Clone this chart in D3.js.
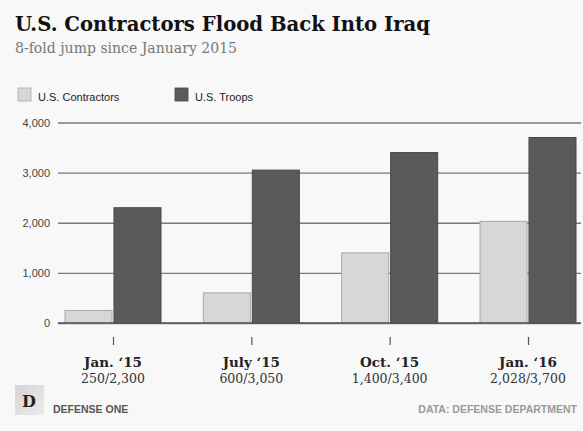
<!DOCTYPE html>
<html>
<head>
<meta charset="utf-8">
<script src="https://cdn.jsdelivr.net/npm/d3@7"></script>
<style>
  html, body { margin: 0; padding: 0; background: #f8f8f8; }
  svg { display: block; }
</style>
</head>
<body>
<script>
// Data
const categories = ["Jan. \u201815", "July \u201815", "Oct. \u201815", "Jan. \u201816"];
const contractors = [250, 600, 1400, 2028];
const troops = [2300, 3050, 3400, 3700];
const seriesNames = ["U.S. Contractors", "U.S. Troops"];
const yTicks = [0, 1000, 2000, 3000, 4000];

const W = 583, H = 431;
const svg = d3.select("body").append("svg").attr("width", W).attr("height", H);

const defs = svg.append("defs");
const gD = defs.append("linearGradient").attr("id", "dbox").attr("x1", 0).attr("y1", 0).attr("x2", 1).attr("y2", 1);
gD.append("stop").attr("offset", "0%").attr("stop-color", "#d4d4d4");
gD.append("stop").attr("offset", "100%").attr("stop-color", "#ececec");

svg.append("rect").attr("width", W).attr("height", H).attr("fill", "#f8f8f8");

// Title block
const serif = "'DejaVu Serif', 'Liberation Serif', serif";
const sans = "'Liberation Sans', Arial, Helvetica, sans-serif";

svg.append("text").attr("x", 15).attr("y", 31)
  .attr("font-family", serif).attr("font-weight", "bold").attr("font-size", 20.5)
  .attr("fill", "#111")
  .attr("textLength", 415).attr("lengthAdjust", "spacingAndGlyphs")
  .text("U.S. Contractors Flood Back Into Iraq");

svg.append("text").attr("x", 15).attr("y", 53)
  .attr("font-family", serif).attr("font-size", 14.5)
  .attr("fill", "#777")
  .attr("textLength", 222).attr("lengthAdjust", "spacingAndGlyphs")
  .text("8-fold jump since January 2015");

// Scales
const x = d3.scalePoint().domain(categories).range([113, 528]);
const xs = d3.scaleBand().domain(seriesNames).range([-48, 48]).paddingInner(0.04);
const y = d3.scaleLinear().domain([0, 4000]).range([323, 122.5]);

const fills = { "U.S. Contractors": "#d7d7d7", "U.S. Troops": "#5a5a5a" };
const strokes = { "U.S. Contractors": "#a8a8a8", "U.S. Troops": "#474747" };

// Legend
const legend = svg.append("g").attr("font-family", sans).attr("font-size", 11).attr("fill", "#222");
const legendX = [18, 175];
seriesNames.forEach((s, i) => {
  const g = legend.append("g").attr("transform", `translate(${legendX[i]},88)`);
  g.append("rect").attr("width", 13).attr("height", 13)
    .attr("fill", fills[s]).attr("stroke", strokes[s]).attr("stroke-width", 0.8);
  g.append("text").attr("x", 20).attr("y", 12.5).text(s);
});

// Y axis gridlines and labels
const yAxis = d3.axisLeft(y).tickValues(yTicks).tickFormat(d3.format(",")).tickSize(-(581 - 58)).tickPadding(8);
const ga = svg.append("g").attr("transform", "translate(58,0)").call(yAxis);
ga.select(".domain").remove();
ga.selectAll(".tick line").attr("stroke", "#7a7a7a").attr("stroke-width", 1.4);
ga.selectAll(".tick text").attr("font-family", sans).attr("font-size", 11).attr("fill", "#444");

// Bars
const rows = categories.map((c, i) => ({ cat: c, values: [contractors[i], troops[i]] }));
const groups = svg.append("g").selectAll("g").data(rows).join("g")
  .attr("transform", d => `translate(${x(d.cat)},0)`);
groups.selectAll("rect").data(d => d.values.map((v, j) => ({ s: seriesNames[j], v })))
  .join("rect")
  .attr("x", d => xs(d.s))
  .attr("width", xs.bandwidth())
  .attr("y", d => y(d.v))
  .attr("height", d => y(0) - y(d.v))
  .attr("fill", d => fills[d.s])
  .attr("stroke", d => strokes[d.s])
  .attr("stroke-width", 1);

// Baseline
svg.append("line").attr("x1", 58).attr("x2", 581).attr("y1", y(0)).attr("y2", y(0))
  .attr("stroke", "#555").attr("stroke-width", 1.4);

// Category ticks and labels
const xAxis = d3.axisBottom(x).tickSize(0).tickFormat("");
const gx = svg.append("g").attr("transform", "translate(0,337)").call(xAxis);
gx.select(".domain").remove();
gx.selectAll(".tick line").attr("y1", 0).attr("y2", 8).attr("stroke", "#555").attr("stroke-width", 1.2);

const labels = svg.append("g").attr("text-anchor", "middle");
labels.selectAll("text.cat").data(categories).join("text").attr("class", "cat")
  .attr("x", d => x(d)).attr("y", 367)
  .attr("font-family", serif).attr("font-weight", "bold").attr("font-size", 13.5).attr("fill", "#222")
  .text(d => d);
labels.selectAll("text.val").data(rows).join("text").attr("class", "val")
  .attr("x", d => x(d.cat)).attr("y", 383)
  .attr("font-family", serif).attr("font-size", 12.5).attr("fill", "#333")
  .text(d => d.values.map(d3.format(",")).join("/"));

// Footer
svg.append("rect").attr("x", 15).attr("y", 385).attr("width", 29).attr("height", 30).attr("fill", "url(#dbox)");
svg.append("text").attr("x", 22).attr("y", 407)
  .attr("font-family", serif).attr("font-weight", "bold").attr("font-size", 16).attr("fill", "#222").text("D");
svg.append("text").attr("x", 53).attr("y", 413)
  .attr("font-family", sans).attr("font-weight", "bold").attr("font-size", 10.5).attr("fill", "#555").text("DEFENSE ONE");
svg.append("text").attr("x", 577).attr("y", 413).attr("text-anchor", "end")
  .attr("font-family", sans).attr("font-weight", "bold").attr("font-size", 10.5).attr("fill", "#9a9a9a")
  .text("DATA: DEFENSE DEPARTMENT");
</script>
</body>
</html>
